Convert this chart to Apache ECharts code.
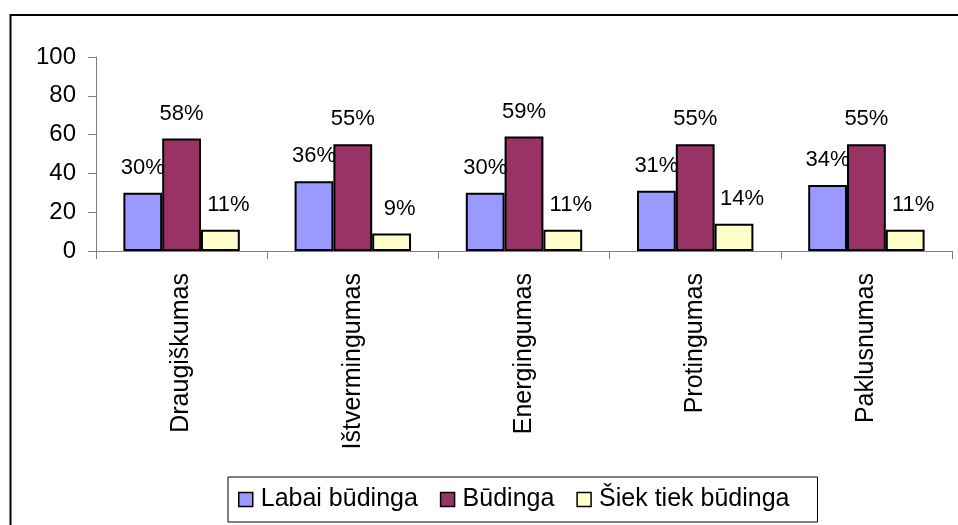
<!DOCTYPE html>
<html>
<head>
<meta charset="utf-8">
<script src="https://cdn.jsdelivr.net/npm/echarts@6/dist/echarts.min.js"></script>
<style>
  html, body { margin: 0; padding: 0; background: #fff; }
  #Chart { width: 958px; height: 525px; }
</style>
</head>
<body>
<div id="Chart"></div>
<script>
var categories = ['Draugiškumas', 'Ištvermingumas', 'Energingumas', 'Protingumas', 'Paklusnumas'];
var labaiBudinga = [30, 36, 30, 31, 34];
var budinga = [58, 55, 59, 55, 55];
var siekTiekBudinga = [11, 9, 11, 14, 11];
var yTicks = { min: 0, max: 100, interval: 20 };

var font = 'Liberation Sans, Arial, sans-serif';

var Chart = echarts.init(document.getElementById('Chart'));

function barSeries(name, data, color, labelOffset) {
    return {
        name: name,
        type: 'bar',
        data: data,
        barGap: '0%',
        barCategoryGap: '32%',
        itemStyle: {
            color: color,
            borderColor: '#000',
            borderWidth: 2
        },
        label: {
            show: true,
            position: 'top',
            distance: 14,
            offset: labelOffset,
            formatter: '{c}%',
            color: '#000',
            fontSize: 22,
            fontFamily: font
        },
        emphasis: { disabled: true }
    };
}

var ChartOption = {
    animation: false,
    backgroundColor: '#fff',
    graphic: [{
        type: 'rect',
        shape: { x: 10.5, y: 15, width: 960, height: 530 },
        style: { fill: 'none', stroke: '#000', lineWidth: 2 },
        silent: true
    }],
    grid: {
        left: 96,
        right: 6,
        top: 57,
        bottom: 274
    },
    legend: {
        left: 228,
        top: 477,
        padding: [10, 28, 10, 10],
        itemGap: 22,
        itemWidth: 14,
        itemHeight: 14,
        icon: 'rect',
        borderColor: '#000',
        borderWidth: 1,
        itemStyle: { borderColor: '#000', borderWidth: 1.5 },
        textStyle: {
            color: '#000',
            fontSize: 25,
            fontFamily: font,
            padding: [0, 0, 0, 3]
        },
        data: ['Labai būdinga', 'Būdinga', 'Šiek tiek būdinga']
    },
    xAxis: {
        type: 'category',
        data: categories,
        boundaryGap: true,
        axisLine: { lineStyle: { color: '#808080', width: 1 } },
        axisTick: { show: true, interval: 0, length: 8, lineStyle: { color: '#808080' } },
        axisLabel: {
            interval: 0,
            rotate: 90,
            margin: 22,
            color: '#000',
            fontSize: 25,
            fontFamily: font
        }
    },
    yAxis: {
        type: 'value',
        min: yTicks.min,
        max: yTicks.max,
        interval: yTicks.interval,
        splitLine: { show: false },
        axisLine: { show: true, lineStyle: { color: '#808080', width: 1 } },
        axisTick: { show: true, length: 8, lineStyle: { color: '#808080' } },
        axisLabel: {
            margin: 20,
            color: '#000',
            fontSize: 24,
            fontFamily: font
        }
    },
    series: [
        barSeries('Labai būdinga', labaiBudinga, '#9999FF', [0, 0]),
        barSeries('Būdinga', budinga, '#993366', [0, 0]),
        barSeries('Šiek tiek būdinga', siekTiekBudinga, '#FFFFCC', [8, 0])
    ]
};

Chart.setOption(ChartOption);

window.addEventListener("resize", function () {
    Chart.resize();
});
</script>
</body>
</html>
